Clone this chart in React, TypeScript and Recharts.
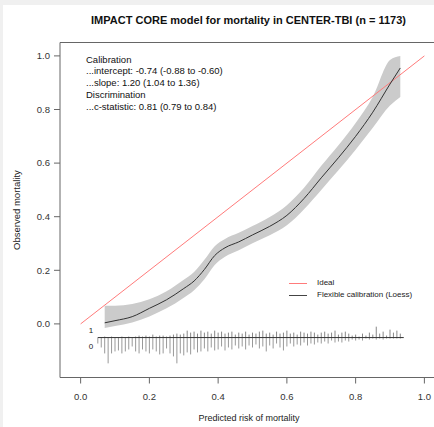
import { ComposedChart, XAxis, YAxis, Line, Area, ReferenceArea } from "recharts";

const title = "IMPACT CORE model for mortality in CENTER-TBI (n = 1173)";
const statsLines = [
  "Calibration",
  "...intercept: -0.74 (-0.88 to -0.60)",
  "...slope: 1.20 (1.04 to 1.36)",
  "Discrimination",
  "...c-statistic: 0.81 (0.79 to 0.84)",
];
const legendItems = [
  { name: "Ideal", color: "#ff7b7b" },
  { name: "Flexible calibration (Loess)", color: "#444" },
];

const xTicks = [0, 0.2, 0.4, 0.6, 0.8, 1];
const yTicks = [0, 0.2, 0.4, 0.6, 0.8, 1];

const idealX = [0, 1];
const idealY = [0, 1];

// loess curve and its confidence band
const loessX = [0.07, 0.1, 0.15, 0.2, 0.25, 0.3, 0.33, 0.36, 0.39, 0.42, 0.46, 0.5, 0.55, 0.6, 0.65, 0.7, 0.75, 0.8, 0.85, 0.9, 0.93];
const loessY = [0.004, 0.012, 0.027, 0.058, 0.09, 0.132, 0.16, 0.203, 0.255, 0.284, 0.306, 0.332, 0.364, 0.405, 0.468, 0.545, 0.62, 0.7, 0.79, 0.895, 0.955];
const lowerCI = [-0.015, -0.008, 0.005, 0.028, 0.058, 0.098, 0.126, 0.167, 0.22, 0.251, 0.275, 0.301, 0.331, 0.368, 0.428, 0.5, 0.573, 0.65, 0.732, 0.815, 0.847];
const upperCI = [0.068, 0.068, 0.074, 0.092, 0.122, 0.165, 0.194, 0.239, 0.29, 0.317, 0.34, 0.365, 0.399, 0.443, 0.508, 0.59, 0.667, 0.75, 0.848, 0.985, 1.0];

// spike histogram of predicted risks (events up, non-events down)
const binX = [
  0.05, 0.06, 0.07, 0.08, 0.09, 0.1, 0.11, 0.12, 0.13, 0.14, 0.15, 0.16, 0.17, 0.18, 0.19, 0.2,
  0.21, 0.22, 0.23, 0.24, 0.25, 0.26, 0.27, 0.28, 0.29, 0.3, 0.31, 0.32, 0.33, 0.34, 0.35, 0.36,
  0.37, 0.38, 0.39, 0.4, 0.41, 0.42, 0.43, 0.44, 0.45, 0.46, 0.47, 0.48, 0.49, 0.5, 0.51, 0.52,
  0.53, 0.54, 0.55, 0.56, 0.57, 0.58, 0.59, 0.6, 0.61, 0.62, 0.63, 0.64, 0.65, 0.66, 0.67, 0.68,
  0.69, 0.7, 0.71, 0.72, 0.73, 0.74, 0.75, 0.76, 0.77, 0.78, 0.79, 0.8, 0.81, 0.82, 0.83, 0.84,
  0.85, 0.86, 0.87, 0.88, 0.89, 0.9, 0.91, 0.92, 0.93,
];
const events = [
  0, 0, 1, 0, 1, 0, 0, 1, 0, 1, 0, 1, 2, 1, 2, 1,
  3, 1, 2, 2, 1, 2, 3, 4, 3, 4, 7, 5, 6, 4, 7, 5,
  6, 4, 7, 5, 6, 4, 5, 6, 3, 5, 4, 6, 3, 5, 4, 6,
  7, 4, 5, 3, 6, 4, 5, 7, 4, 5, 3, 6, 5, 4, 6, 5,
  3, 5, 6, 4, 5, 7, 3, 5, 6, 4, 2, 3, 1, 4, 2, 5,
  3, 11, 4, 6, 2, 8, 5, 7, 4,
];
const nonEvents = [
  6, 10, 16, 26, 16, 14, 13, 16, 14, 12, 9, 14, 16, 12, 14, 16,
  12, 14, 17, 16, 11, 16, 19, 26, 16, 18, 15, 17, 12, 15, 14, 11,
  14, 10, 13, 12, 9, 13, 10, 12, 8, 11, 9, 12, 8, 10, 7, 11,
  9, 14, 8, 11, 6, 10, 13, 9, 6, 9, 7, 8, 5, 8, 6, 7,
  5, 6, 4, 6, 3, 5, 4, 5, 3, 4, 2, 3, 2, 3, 1, 2,
  1, 2, 1, 2, 1, 1, 1, 1, 1,
];
const spikeBase = -0.051;
const spikeUnit = 0.0037;
const spikeRange = [0.05, 0.94];

const idealData = idealX.map((x, i) => ({ x, y: idealY[i] }));
const loessData = loessX.map((x, i) => ({ x, y: loessY[i] }));
const bandData = loessX.map((x, i) => ({ x, range: [lowerCI[i], upperCI[i]] }));
const baseData = spikeRange.map((x) => ({ x, y: spikeBase }));
const spikes = (counts: number[], dir: number) =>
  binX.flatMap((x, i) =>
    counts[i] > 0
      ? [
          { x, y: spikeBase },
          { x, y: spikeBase + dir * counts[i] * spikeUnit },
          { x, y: null },
        ]
      : []
  );
const upData = spikes(events, 1);
const downData = spikes(nonEvents, -1);

const font = "'Liberation Sans', Arial, sans-serif";
const fmt = (v: number) => v.toFixed(1);

export default function App() {
  return (
    <div
      style={{
        position: "fixed",
        left: 0,
        top: 0,
        width: 434,
        height: 427,
        overflow: "hidden",
        background: "#f0f0f0",
        fontFamily: font,
      }}
    >
      <div style={{ position: "absolute", left: 3, top: 5, right: 0, bottom: 0, background: "#fff" }} />
      <div style={{ position: "absolute", left: 0, top: 0 }}>
        <ComposedChart width={460} height={427} margin={{ top: 42.5, right: 15, bottom: 0, left: 0 }}>
          <XAxis
            dataKey="x"
            type="number"
            domain={[-0.06, 1.06]}
            ticks={xTicks}
            tickFormatter={fmt}
            allowDataOverflow
            axisLine={false}
            tickLine={{ stroke: "#666" }}
            tickSize={6}
            tickMargin={10}
            height={49.5}
            tick={{ fill: "#333", fontSize: 9.5, fontFamily: font }}
          />
          <YAxis
            type="number"
            domain={[-0.2, 1.05]}
            ticks={yTicks}
            tickFormatter={fmt}
            allowDataOverflow
            axisLine={false}
            tickLine={{ stroke: "#666" }}
            tickSize={6}
            tickMargin={4}
            width={60}
            tick={{ fill: "#333", fontSize: 9.5, fontFamily: font }}
          />
          <ReferenceArea
            x1={-0.06}
            x2={1.06}
            y1={-0.2}
            y2={1.05}
            fill="#fff"
            fillOpacity={0}
            stroke="#666"
            strokeWidth={1}
            ifOverflow="visible"
          />
          <Area
            data={bandData}
            dataKey="range"
            type="monotone"
            fill="#cbcbcb"
            fillOpacity={1}
            stroke="none"
            isAnimationActive={false}
            activeDot={false}
          />
          <Line
            data={idealData}
            dataKey="y"
            type="linear"
            stroke="#ff7b7b"
            strokeWidth={1}
            dot={false}
            activeDot={false}
            isAnimationActive={false}
          />
          <Line
            data={loessData}
            dataKey="y"
            type="monotone"
            stroke="#333"
            strokeWidth={1}
            dot={false}
            activeDot={false}
            isAnimationActive={false}
          />
          <Line
            data={downData}
            dataKey="y"
            type="linear"
            stroke="#999"
            strokeWidth={1}
            dot={false}
            activeDot={false}
            connectNulls={false}
            isAnimationActive={false}
          />
          <Line
            data={upData}
            dataKey="y"
            type="linear"
            stroke="#888"
            strokeWidth={1}
            dot={false}
            activeDot={false}
            connectNulls={false}
            isAnimationActive={false}
          />
          <Line
            data={baseData}
            dataKey="y"
            type="linear"
            stroke="#333"
            strokeWidth={1}
            dot={false}
            activeDot={false}
            isAnimationActive={false}
          />
        </ComposedChart>
      </div>

      <div
        style={{
          position: "absolute",
          left: 0,
          width: 497,
          top: 13,
          textAlign: "center",
          fontWeight: "bold",
          fontSize: 11,
          lineHeight: "14px",
          color: "#111",
          whiteSpace: "nowrap",
        }}
      >
        {title}
      </div>

      <div
        style={{
          position: "absolute",
          left: 86,
          top: 53.5,
          fontSize: 9.5,
          lineHeight: "11.8px",
          color: "#111",
          whiteSpace: "nowrap",
        }}
      >
        {statsLines.map((s) => (
          <div key={s}>{s}</div>
        ))}
      </div>

      <div style={{ position: "absolute", left: 289, top: 277, fontSize: 8, lineHeight: "12px", color: "#222" }}>
        {legendItems.map((it) => (
          <div key={it.name} style={{ display: "flex", alignItems: "center", whiteSpace: "nowrap" }}>
            <span style={{ display: "inline-block", width: 18, borderTop: `1px solid ${it.color}`, marginRight: 10 }} />
            {it.name}
          </div>
        ))}
      </div>

      <div style={{ position: "absolute", left: 87, top: 325, width: 8, textAlign: "center", fontSize: 8, lineHeight: "11px", color: "#222" }}>
        1
      </div>
      <div style={{ position: "absolute", left: 87, top: 341, width: 8, textAlign: "center", fontSize: 8, lineHeight: "11px", color: "#222" }}>
        0
      </div>

      <div
        style={{
          position: "absolute",
          left: 149,
          width: 200,
          top: 412,
          textAlign: "center",
          fontSize: 9,
          lineHeight: "12px",
          color: "#222",
        }}
      >
        Predicted risk of mortality
      </div>
      <div
        style={{
          position: "absolute",
          left: 17 - 60,
          top: 210 - 6,
          width: 120,
          textAlign: "center",
          fontSize: 9.5,
          lineHeight: "12px",
          color: "#222",
          transform: "rotate(-90deg)",
          whiteSpace: "nowrap",
        }}
      >
        Observed mortality
      </div>
    </div>
  );
}
